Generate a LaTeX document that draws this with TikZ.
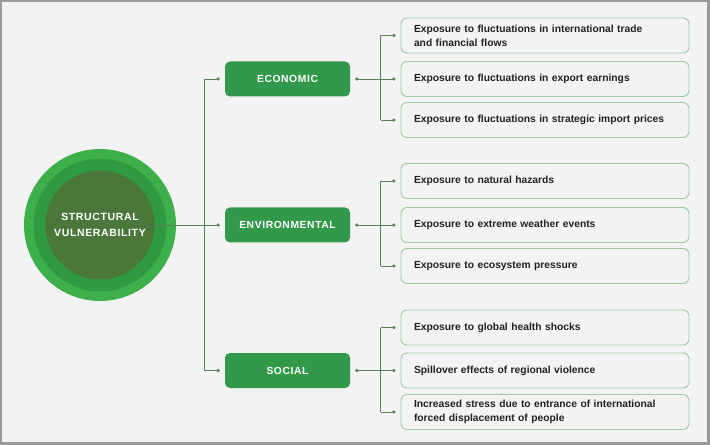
\documentclass[tikz,border=0pt]{standalone}
\usepackage{fontspec}
\setmainfont{Liberation Sans}
\newfontfamily\capsfont[LetterSpace=6]{Liberation Sans}
\usetikzlibrary{arrows.meta}
\definecolor{bg}{HTML}{F4F3F3}
\definecolor{frame}{HTML}{9A9A9A}
\definecolor{gouter}{HTML}{3DB04C}
\definecolor{gmid}{HTML}{2F9A42}
\definecolor{ginner}{HTML}{4B773A}
\definecolor{gbox}{HTML}{32994A}
\definecolor{bord}{HTML}{9CC9A4}
\definecolor{conn}{HTML}{5A7F5C}
\definecolor{txt}{HTML}{222222}
\tikzset{
  itembox/.style={draw=bord, line width=0.9bp, fill=bg, rounded corners=6bp,
    minimum width=288bp, minimum height=35bp, text width=262bp, inner xsep=13bp,
    align=left, font=\bfseries\fontsize{10.3bp}{14bp}\selectfont, text=txt},
  catbox/.style={fill=gbox, rounded corners=5bp, minimum width=125bp, minimum height=35bp,
    text=white, font=\capsfont\bfseries\fontsize{10.3bp}{12bp}\selectfont},
  link/.style={draw=conn, line width=0.8bp},
  dotend/.style={link, -{Circle[length=3.2bp]}, shorten >=5bp},
  dotstart/.style={link, {Circle[length=3.2bp]}-, shorten <=5bp},
}
\begin{document}
\begin{tikzpicture}[x=1bp,y=-1bp]
\useasboundingbox (0,0) rectangle (710,445);
\fill[frame] (0,0) rectangle (710,445);
\fill[bg] (2,2) rectangle (707,442);

% central circle
\node[circle, fill=gouter, minimum size=152bp, inner sep=0] (outer) at (100,225) {};
\node[circle, fill=gmid, minimum size=133bp, inner sep=0] (mid) at (100,225) {};
\node[circle, fill=ginner, minimum size=109bp, inner sep=0, text=white, align=center,
  font=\capsfont\bfseries\fontsize{10.5bp}{16bp}\selectfont] (inner) at (100,225) {STRUCTURAL\\VULNERABILITY};

% categories
\node[catbox] (eco) at (287.5,79) {ECONOMIC};
\node[catbox] (env) at (287.5,225) {ENVIRONMENTAL};
\node[catbox] (soc) at (287.5,370.5) {SOCIAL};

% items
\node[itembox] (e1) at (545,35.5) {Exposure to fluctuations in international trade\\and financial flows};
\node[itembox] (e2) at (545,79) {Exposure to fluctuations in export earnings};
\node[itembox] (e3) at (545,120) {Exposure to fluctuations in strategic import prices};
\node[itembox] (n1) at (545,181) {Exposure to natural hazards};
\node[itembox] (n2) at (545,225) {Exposure to extreme weather events};
\node[itembox] (n3) at (545,266) {Exposure to ecosystem pressure};
\node[itembox] (s1) at (545,327.5) {Exposure to global health shocks};
\node[itembox] (s2) at (545,370.5) {Spillover effects of regional violence};
\node[itembox] (s3) at (545,412) {Increased stress due to entrance of international\\forced displacement of people};

% main trunk
\coordinate (tr) at (204,225);
\draw[link] (eco.west -| tr) -- (soc.west -| tr);
\draw[dotend] (inner.east) -- (env.west);
\draw[dotend] (eco.west -| tr) -- (eco.west);
\draw[dotend] (soc.west -| tr) -- (soc.west);

% branches
\coordinate (br) at (380.5,0);
\foreach \c/\a/\b/\m in {eco/e1/e3/e2, env/n1/n3/n2, soc/s1/s3/s2}{
  \draw[link] (\a.west -| br) -- (\b.west -| br);
  \draw[dotstart] (\c.east) -- (\c.east -| br);
  \draw[dotend] (\a.west -| br) -- (\a.west);
  \draw[dotend] (\m.west -| br) -- (\m.west);
  \draw[dotend] (\b.west -| br) -- (\b.west);
}
\end{tikzpicture}
\end{document}
